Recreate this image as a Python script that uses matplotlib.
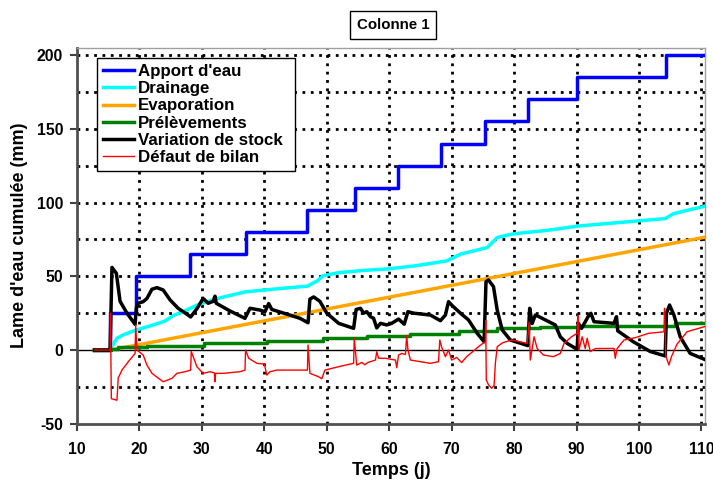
import matplotlib
matplotlib.use("Agg")
import matplotlib.pyplot as plt

plt.rcParams['font.family'] = ['Liberation Sans', 'DejaVu Sans']
plt.rcParams['font.weight'] = 'bold'
plt.rcParams['axes.unicode_minus'] = False

# ---- data ----
apport_x = [12.8, 15.35, 19.5, 28.1, 37.0, 46.9, 54.5, 61.4, 68.3, 75.4, 82.3, 90.1, 104.4, 110.6]
apport_y = [0, 25, 50, 65, 80, 95, 110, 125, 140, 155, 170, 185, 200, 200]

drain_x = [12.8, 15.0, 15.5, 16.4, 17.5, 19.5, 22.2, 24.0, 25.5, 27.5, 29.0, 31.0, 33.0, 36.9, 42.0,
           46.9, 48.5, 49.4, 52.0, 56.0, 59.8, 64.0, 69.2, 71.4, 75.7, 77.3, 79.9, 85.0, 90.6,
           97.0, 104.2, 105.5, 108.0, 110.6]
drain_y = [0, 0, 2, 8, 10.5, 13.6, 17, 19.5, 23.5, 27, 30, 33, 35.5, 39.4, 41.5,
           43.3, 47, 50.4, 52.5, 54, 55, 57, 60.4, 65, 69.5, 76.3, 78.8, 81, 84.2,
           86.5, 89.1, 92.4, 95, 97.5]

evap_x = [12.8, 15.4, 110.6]
evap_y = [0, 0, 76.5]

prel_x = [12.8, 15.4, 16.5, 21.2, 30.3, 40.4, 49.4, 56.5, 63.4, 71.1, 77.3, 84.2, 90.6, 105.8, 110.6]
prel_y = [0, 1.0, 2.0, 3.0, 4.6, 6.3, 8.0, 9.2, 10.7, 12.9, 14.7, 15.8, 16.3, 18.0, 18.0]

stock_x = [12.8, 15.3, 15.6, 16.3, 16.9, 18.0, 19.3, 19.5, 19.8, 20.6, 21.2, 22.0, 22.8, 23.8, 24.9,
           26.2, 27.8, 28.2, 29.2, 30.2, 31.0, 31.8, 32.1, 32.3, 34.5, 36.9, 37.7, 39.3, 40.1,
           40.7, 41.2, 43.5, 45.7, 47.0, 47.3, 47.9, 48.9, 50.0, 51.9, 54.3, 54.7, 55.4, 55.9,
           56.4, 57.0, 57.5, 58.0, 58.6, 59.6, 60.4, 61.5, 62.4, 63.0, 63.9, 66.6, 68.2, 69.0,
           69.5, 70.0, 71.4, 72.7, 74.1, 75.2, 75.5, 75.9, 76.7, 77.3, 78.1, 79.4, 82.2, 82.5,
           82.9, 83.4, 84.0, 85.0, 86.6, 87.4, 88.5, 90.1, 90.3, 90.8, 92.0, 92.3, 92.8, 96.0,
           96.4, 96.6, 99.1, 101.8, 104.2, 104.4, 104.9, 105.6, 106.6, 108.2, 110.6]
stock_y = [0, 0, 56, 52, 33, 25, 17.4, 28.3, 31.7, 32.8, 35, 41.2, 42.3, 40.7, 34,
           28.3, 23.7, 22.4, 28, 35, 31.7, 33, 36.5, 31.7, 26.5, 21.5, 28.3, 27.1, 26,
           31.5, 27.5, 24.5, 21.5, 18.5, 34.5, 36, 33, 25, 18.1, 14.7, 27.5, 28.3, 25,
           26, 22.6, 21.5, 15, 18.1, 17, 18.1, 21, 17.5, 26, 25, 23.7, 19.9, 23.7,
           32.8, 30.5, 25, 20.4, 11.3, 5.6, 46.3, 47.5, 43, 27, 13.6, 6.8, 3, 28.3,
           18, 23.7, 22.6, 20.4, 17, 9, 4.5, 0.5, 18.1, 14.7, 23.7, 24.9, 19.2, 18.1,
           22.6, 13, 5.6, -1, -4, 24.9, 30.5, 23.7, 9, -2.3, -6.5]

defaut_x = [12.8, 15.3, 15.35, 15.5, 16.4, 16.6, 17.2, 18.2, 19.3, 19.4, 19.6, 20.6, 21.2, 22.0,
            23.8, 25.2, 26.0, 27.3, 28.2, 28.3, 29.2, 30.2, 31.3, 32.0, 32.1, 32.2, 33.4, 36.1,
            36.9, 37.0, 37.5, 38.8, 40.0, 40.4, 40.9, 42.0, 45.7, 46.9, 47.0, 47.3, 48.7, 49.2,
            49.7, 51.9, 54.3, 54.4, 54.8, 55.6, 56.1, 56.6, 57.8, 58.0, 58.3, 59.4, 61.0, 61.2,
            61.5, 62.0, 62.6, 62.8, 63.0, 63.4, 65.0, 66.6, 67.9, 68.1, 68.4, 69.0, 69.5, 70.0,
            70.8, 71.6, 72.4, 73.4, 74.5, 75.4, 75.45, 75.55, 75.9, 76.4, 76.8, 77.0, 77.3, 78.2,
            79.6, 82.1, 82.4, 82.6, 83.2, 83.7, 84.7, 86.3, 87.4, 88.0, 89.2, 90.1, 90.2, 90.4,
            90.9, 91.4, 91.7, 92.2, 93.0, 96.0, 96.2, 96.5, 97.6, 99.5, 101.5, 104.0, 104.1, 104.3,
            104.8, 105.2, 106.1, 107.7, 110.6]
defaut_y = [0, 0, 25, -33, -34, -19, -13.6, -8, -2.3, 17, 0, -3.4, -10.2, -15.8,
            -21.5, -19.2, -15.8, -14.7, -13.6, -1, -11.3, -15.8, -14.7, -15.5, -21.5, -15.8, -15.8, -14.7,
            -13.6, 0, -5.6, -9, -9.5, -17, -14.7, -13.6, -13.6, -13.6, 3.4, -15.8, -18.1, -19.5,
            -13.6, -11.3, -9, 7.9, -10.2, -8.4, -10, -8.4, -6.8, -1.1, -5.6, -5.6, -6.8, -12,
            -3.4, -2.3, -3, 10, 0, -6.8, -7.9, -9, -7.9, 6.8, 2, -4.5, 0, -6.8,
            -5, -8.5, -4.5, -1, 3, 5.6, 20, -20.4, -23.5, -26, -24, -9, 2.3, 5,
            6.8, 4.5, 19, -6.8, 9, 1, -3.4, -4.5, -2.3, 4.5, 9, 11.3, 23.7, 0,
            9, 1, 8, -1.1, 1, 1.1, -5.6, 1, 6.8, 8.5, 11.3, 12.4, 28.3, -4,
            -10.2, -4.5, 4, 12.4, 16]

labels = ["Apport d'eau", "Drainage", "Evaporation", "Prélèvements", "Variation de stock", "Défaut de bilan"]
x_ticks = [10, 20, 30, 40, 50, 60, 70, 80, 90, 100, 110]
y_ticks = [-50, 0, 50, 100, 150, 200]

# ---- figure ----
fig = plt.figure(figsize=(7.13, 4.86), dpi=100)
ax = fig.add_axes([0.108, 0.128, 0.881, 0.774])

grid_style = dict(color='black', linestyle=(0, (1, 2)), linewidth=2.0)
for y in range(-25, 205, 25):
    if y != 0:
        ax.axhline(y, zorder=1, **grid_style)
for x in x_ticks[1:]:
    ax.axvline(x, zorder=1, **grid_style)
ax.axhline(0, color='black', linewidth=1.0, zorder=2)

ax.plot(apport_x, apport_y, drawstyle='steps-post', color='#0000ff', lw=2.5, label=labels[0], zorder=3)
ax.plot(drain_x, drain_y, color='#00ffff', lw=2.5, label=labels[1], zorder=3)
ax.plot(evap_x, evap_y, color='#ffa500', lw=2.5, label=labels[2], zorder=3)
ax.plot(prel_x, prel_y, drawstyle='steps-post', color='#008000', lw=2.5, label=labels[3], zorder=3)
ax.plot(stock_x, stock_y, color='black', lw=2.5, label=labels[4], zorder=4)
ax.plot(defaut_x, defaut_y, color='#ff0000', lw=1.0, label=labels[5], zorder=5)

ax.set_xlim(10, 110.6)
ax.set_ylim(-50, 205)
ax.set_xticks(x_ticks)
ax.set_yticks(y_ticks)
ax.tick_params(axis='both', direction='out', length=5, width=1.5, labelsize=11.4, color='#404040')
for lab in ax.get_xticklabels() + ax.get_yticklabels():
    lab.set_fontweight('bold')
ax.tick_params(axis='x', pad=8)
ax.tick_params(axis='y', pad=5)

for s in ['left', 'bottom']:
    ax.spines[s].set_color('#505050')
    ax.spines[s].set_linewidth(2.0)
for s in ['top', 'right']:
    ax.spines[s].set_color('#a0a0a0')
    ax.spines[s].set_linewidth(1.0)

ax.set_xlabel("Temps (j)", fontsize=13, fontweight='bold', labelpad=4)
ax.set_ylabel("Lame d'eau cumulée (mm)", fontsize=13, fontweight='bold', labelpad=6)

leg = ax.legend(loc='upper left', bbox_to_anchor=(0.032, 0.5, 0.315, 0.472), mode='expand',
                fontsize=12.2, frameon=True, fancybox=False, framealpha=1, edgecolor='black',
                borderpad=0.35, labelspacing=0.13, handlelength=1.8, handletextpad=0.25,
                borderaxespad=0)
leg.get_frame().set_linewidth(1.0)
for t in leg.get_texts():
    t.set_fontweight('bold')

fig.text(0.551, 0.949, "Colonne 1", ha='center', va='center', fontsize=10.8, fontweight='bold',
         bbox=dict(boxstyle='square,pad=0.45', facecolor='white', edgecolor='black', linewidth=1.0))

fig.savefig("out.png", dpi=100)
